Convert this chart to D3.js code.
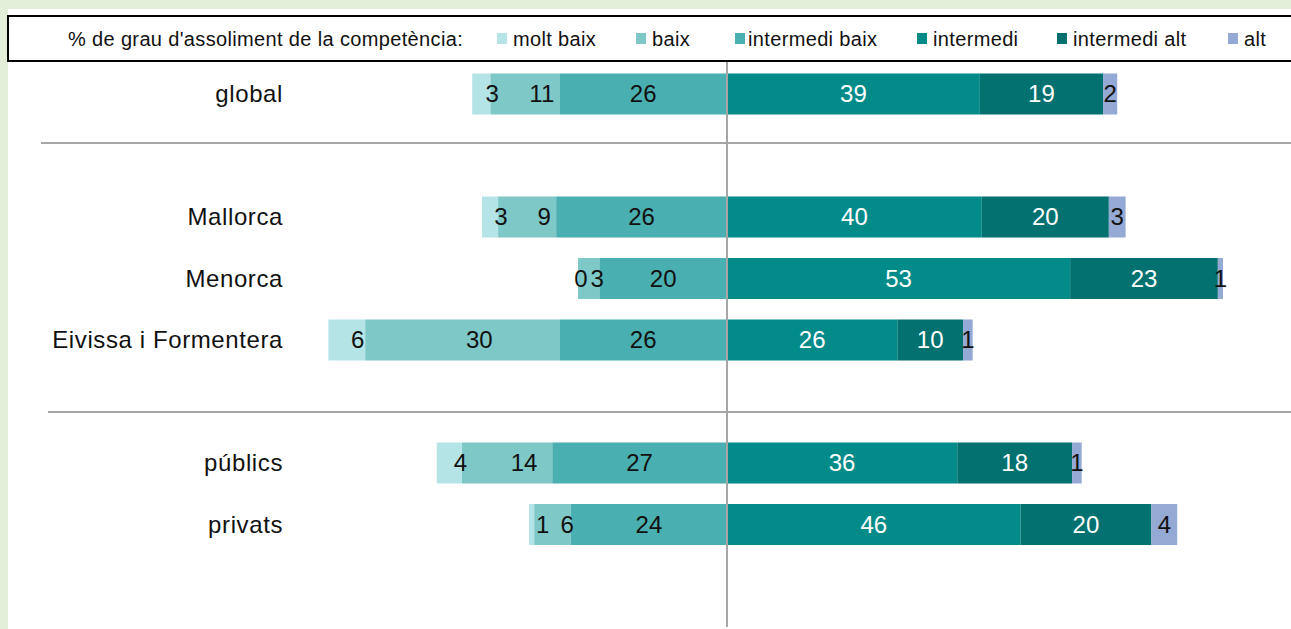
<!DOCTYPE html>
<html>
<head>
<meta charset="utf-8">
<script src="https://cdn.jsdelivr.net/npm/d3@7/dist/d3.min.js"></script>
<style>
  html, body { margin: 0; padding: 0; background: #e3efd9; }
  svg { display: block; }
  text { font-family: Arial, "Liberation Sans", sans-serif; }
</style>
</head>
<body>
<svg id="chart" width="1291" height="629"></svg>
<script>
// ---- data ----
const categories = ["global", "Mallorca", "Menorca", "Eivissa i Formentera", "públics", "privats"];
const rowSlots   = ["global", "_gap1", "Mallorca", "Menorca", "Eivissa i Formentera", "_gap2", "públics", "privats", "_gap3"];
const seriesNames = ["molt baix", "baix", "intermedi baix", "intermedi", "intermedi alt", "alt"];
const moltBaix      = [2.8, 2.5, 0.0, 5.7, 3.9, 0.8];
const baix          = [10.7, 9.0, 3.3, 30.1, 14.0, 5.7];
const intermediBaix = [26.0, 26.49, 19.8, 26.0, 27.1, 24.2];
const intermedi     = [39.2, 39.5, 53.2, 26.4, 35.7, 45.5];
const intermediAlt  = [19.1, 19.7, 22.9, 10.2, 17.8, 20.3];
const alt           = [2.2, 2.6, 0.8, 1.49, 1.49, 4.0];
const legendTitle = "% de grau d'assoliment de la competència:";

// ---- styles ----
const colors = ["#b4e4e6", "#7fc8c8", "#4aafb0", "#038b8a", "#027170", "#94a9d3"];
const labelColors = ["#111", "#111", "#111", "#fff", "#fff", "#111"];

const W = 1291, H = 629;
const svg = d3.select("#chart");

// background panels
svg.append("rect").attr("x", 0).attr("y", 0).attr("width", W).attr("height", H).attr("fill", "#e3efd9");
svg.append("rect").attr("x", 8).attr("y", 9).attr("width", W - 8).attr("height", H - 9).attr("fill", "#fff");

// scales
const x = d3.scaleLinear().domain([-100, 100]).range([727 - 645, 727 + 645]);
const y = d3.scaleBand().domain(rowSlots).range([63.25, 616.75]).paddingInner(0.333).paddingOuter(0.1665);

// build segments
const seriesVals = [moltBaix, baix, intermediBaix, intermedi, intermediAlt, alt];
const segs = [];
categories.forEach((c, i) => {
  let pos = 0;
  [2, 1, 0].forEach(s => {
    const v = seriesVals[s][i];
    segs.push({cat: c, s, v, x0: -(pos + v), x1: -pos});
    pos += v;
  });
  pos = 0;
  [3, 4, 5].forEach(s => {
    const v = seriesVals[s][i];
    segs.push({cat: c, s, v, x0: pos, x1: pos + v});
    pos += v;
  });
});

// label nudge for small left-hand segments (as in the original)
function labelDx(d) {
  const w = x(d.x1) - x(d.x0);
  if (d.s === 0) return d.v > 0 ? 11 : 3;
  if (d.s === 1) return Math.min(17, w / 2.5);
  return 0;
}

// separator lines
const seps = [{x0: 41, yy: 143}, {x0: 48, yy: 412}];
svg.selectAll("line.sep").data(seps).enter().append("line")
  .attr("class", "sep")
  .attr("x1", d => d.x0).attr("x2", W)
  .attr("y1", d => d.yy).attr("y2", d => d.yy)
  .attr("stroke", "#a6a6a6").attr("stroke-width", 2);

// bars
const g = svg.append("g");
g.selectAll("rect.seg").data(segs).enter().append("rect")
  .attr("class", "seg")
  .attr("x", d => x(d.x0))
  .attr("width", d => Math.max(0, x(d.x1) - x(d.x0)))
  .attr("y", d => y(d.cat))
  .attr("height", y.bandwidth())
  .attr("fill", d => colors[d.s]);

// center axis
svg.append("line")
  .attr("x1", x(0)).attr("x2", x(0))
  .attr("y1", 62).attr("y2", 627)
  .attr("stroke", "#a6a6a6").attr("stroke-width", 2);

// value labels
g.selectAll("text.val").data(segs).enter().append("text")
  .attr("class", "val")
  .attr("x", d => (x(d.x0) + x(d.x1)) / 2 + labelDx(d))
  .attr("y", d => y(d.cat) + y.bandwidth() / 2)
  .attr("dy", "0.35em")
  .attr("text-anchor", "middle")
  .attr("font-size", "24px")
  .attr("fill", d => labelColors[d.s])
  .text(d => Math.round(d.v));

// category labels
svg.selectAll("text.cat").data(categories).enter().append("text")
  .attr("class", "cat")
  .attr("x", 283)
  .attr("y", d => y(d) + y.bandwidth() / 2)
  .attr("dy", "0.35em")
  .attr("text-anchor", "end")
  .attr("font-size", "24px")
  .attr("letter-spacing", "0.6px")
  .attr("fill", "#111")
  .text(d => d);

// legend
svg.append("rect")
  .attr("x", 8).attr("y", 16).attr("width", W + 10).attr("height", 45)
  .attr("fill", "#fff").attr("stroke", "#000").attr("stroke-width", 2);
svg.append("text")
  .attr("x", 68).attr("y", 46)
  .attr("font-size", "20px").attr("letter-spacing", "0.35px").attr("fill", "#111")
  .text(legendTitle);
const legendX = [497, 636, 735, 917, 1057, 1228];
const lg = svg.selectAll("g.leg").data(seriesNames).enter().append("g")
  .attr("class", "leg")
  .attr("transform", (d, i) => `translate(${legendX[i]},0)`);
lg.append("rect").attr("x", 0).attr("y", 33).attr("width", 10).attr("height", 11)
  .attr("fill", (d, i) => colors[i]);
lg.append("text").attr("x", (d, i) => i === 2 ? 13 : 16).attr("y", 46)
  .attr("font-size", "20px").attr("letter-spacing", "0.35px").attr("fill", "#111")
  .text(d => d);
</script>
</body>
</html>
